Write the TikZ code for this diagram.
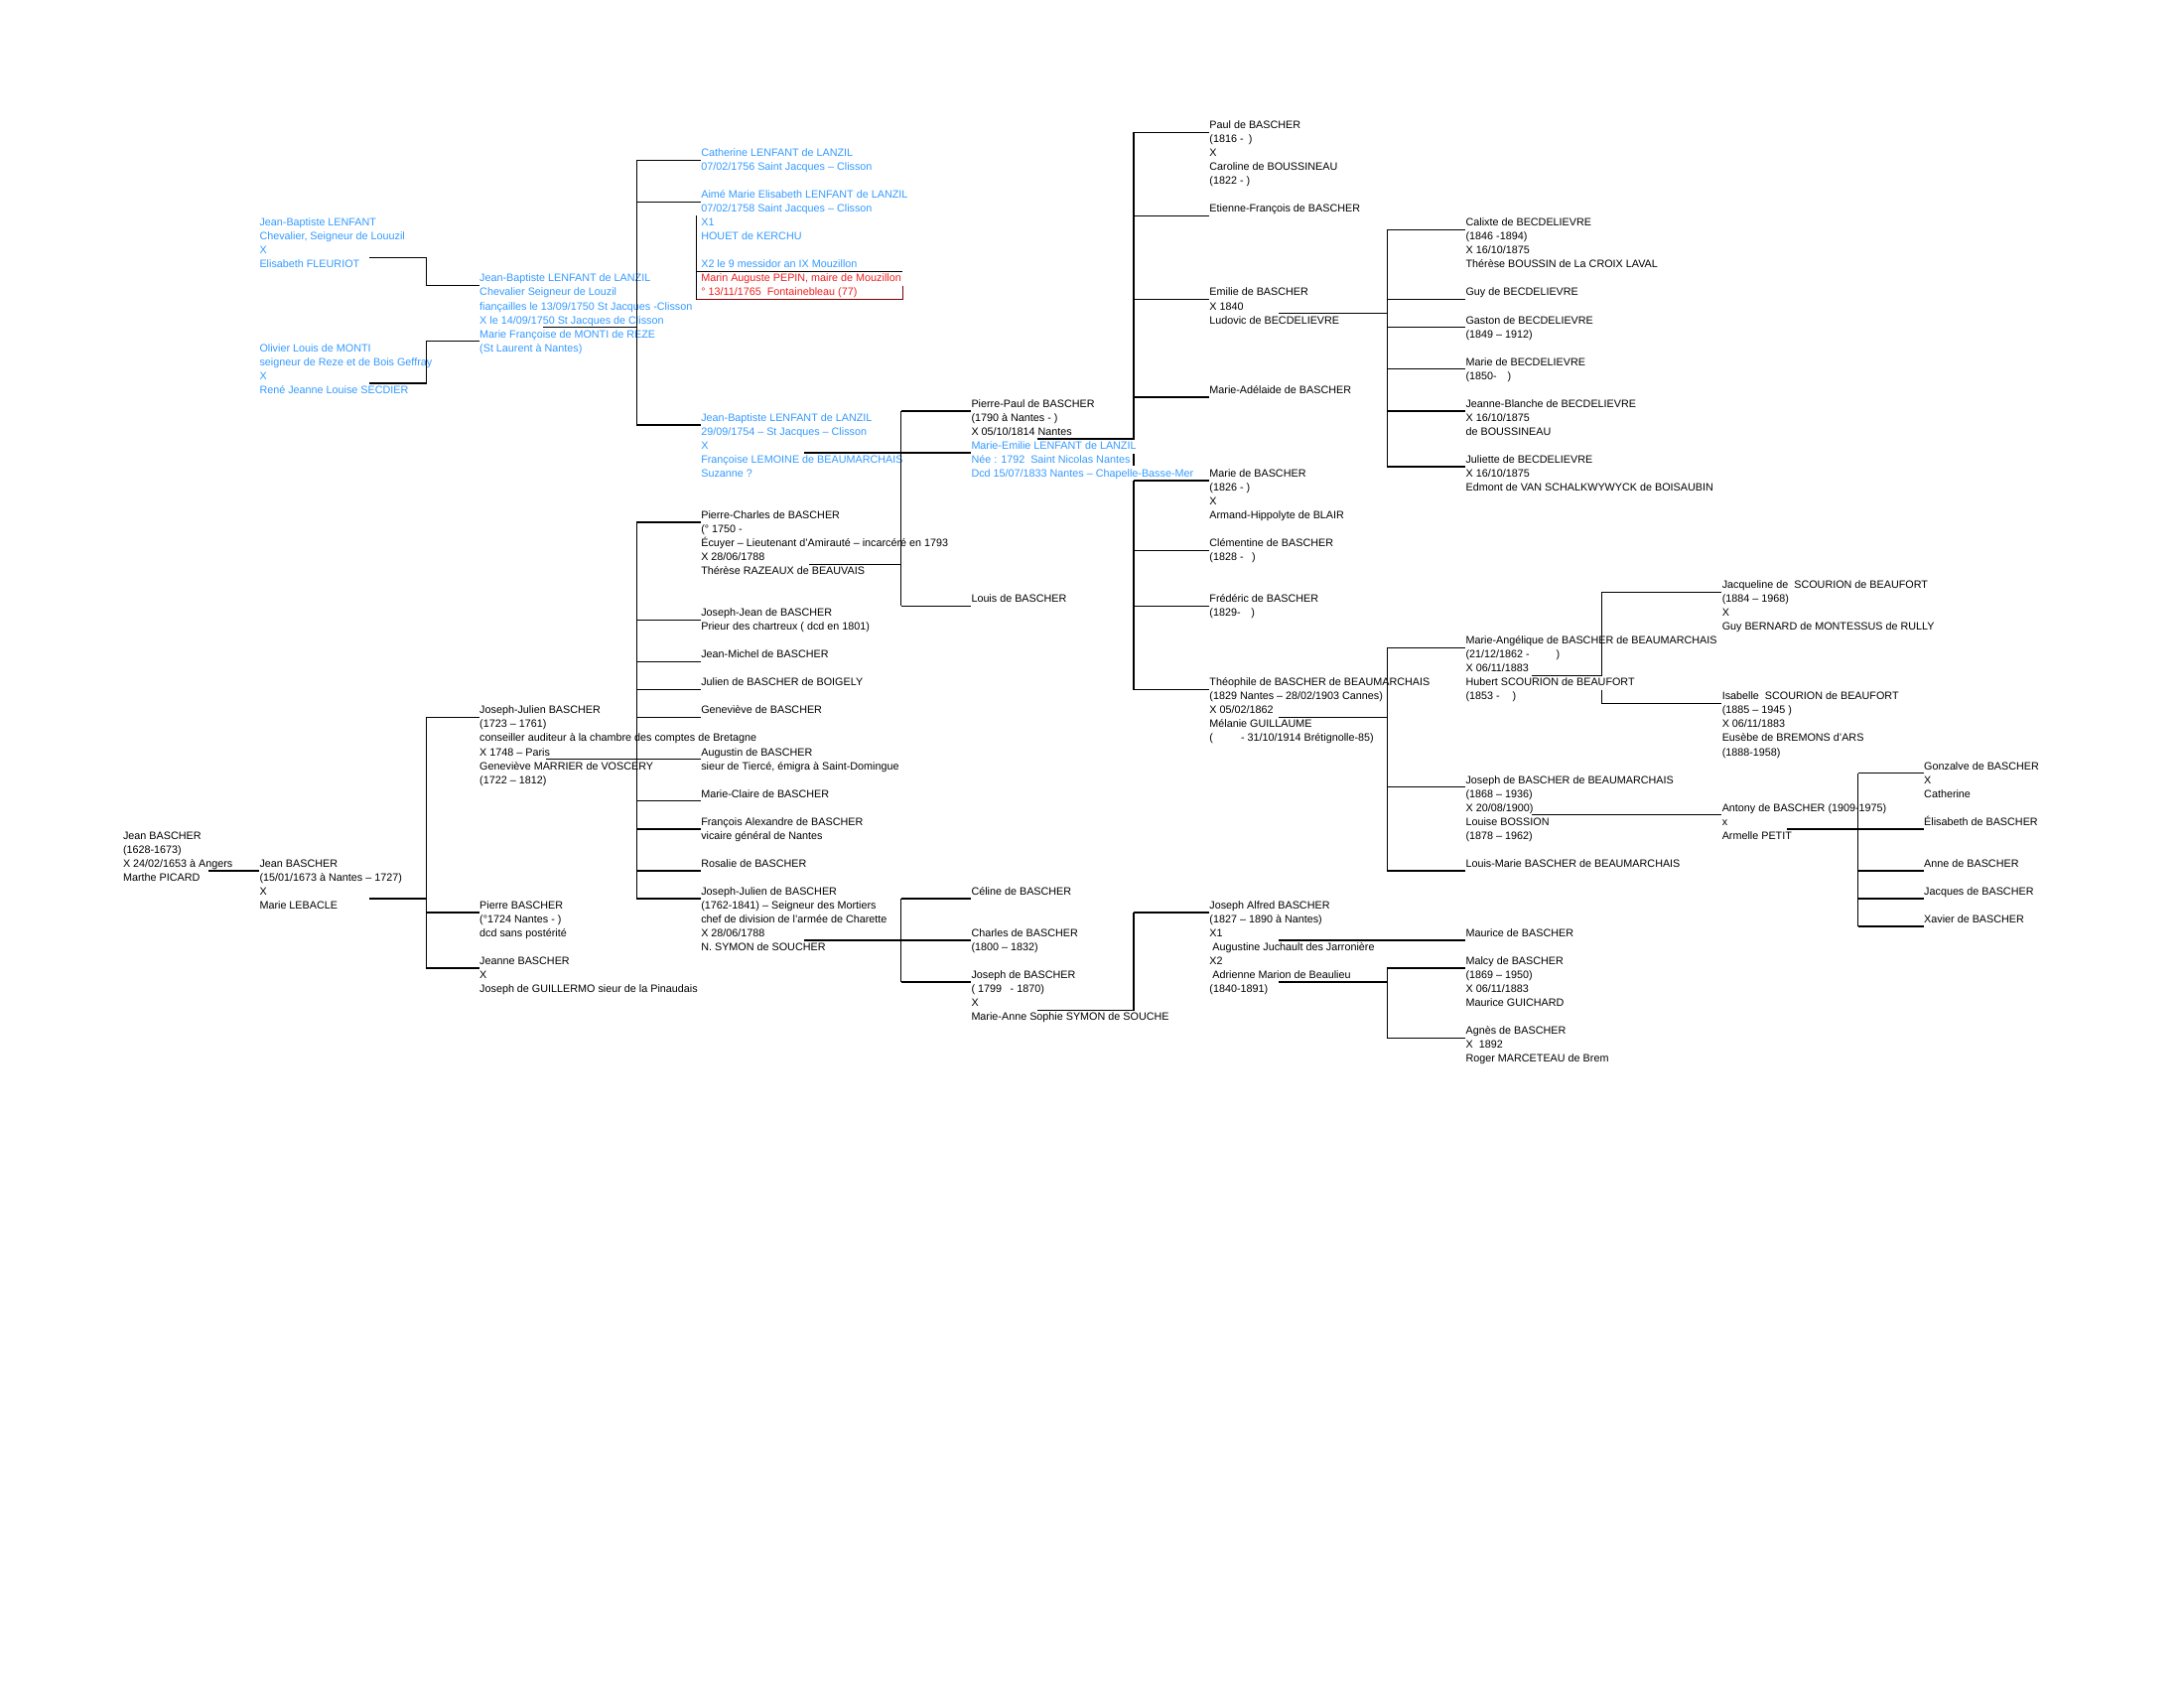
\documentclass[tikz,border=0pt]{standalone}
\usepackage{fontspec}
\setmainfont{Liberation Sans}
\usepackage{tikz}
\definecolor{lanzilblue}{RGB}{51,153,255}
\definecolor{pepinred}{RGB}{240,30,30}
\definecolor{boxred}{RGB}{128,0,0}

\begin{document}
\begin{tikzpicture}[
    x=0.01782cm, y=-0.01782cm,
    person/.style={anchor=north west, inner sep=0pt, align=left, font=\fontsize{3.9}{5.07}\selectfont},
    lanzil/.style={person, text=lanzilblue},
    mayor/.style={person, text=pepinred},
    link/.style={line width=0.5pt}
  ]
  \useasboundingbox (0,0) rectangle (1568,1212);

  \node[person] (jeanA) at (88,595) {\strut Jean BASCHER\\(1628-1673)\\X 24/02/1653 à Angers\\Marthe PICARD};
  \node[person] (jeanB) at (186,615) {\strut Jean BASCHER\\(15/01/1673 à Nantes -- 1727)\\X\\Marie LEBACLE};
  \node[lanzil] (jbl) at (186,155) {\strut Jean-Baptiste LENFANT\\Chevalier, Seigneur de Louuzil\\X\\Elisabeth FLEURIOT};
  \node[lanzil] (monti) at (186,245) {\strut Olivier Louis de MONTI\\seigneur de Reze et de Bois Geffray\\X\\René Jeanne Louise SECDIER};

  \node[lanzil] (jbln) at (344,195) {\strut Jean-Baptiste LENFANT de LANZIL\\Chevalier Seigneur de Louzil\\fiançailles le 13/09/1750 St Jacques -Clisson\\X le 14/09/1750 St Jacques de Clisson\\Marie Françoise de MONTI de REZE\\(St Laurent à Nantes)};
  \node[person] (jjul) at (344,505) {\strut Joseph-Julien BASCHER\\(1723 -- 1761)\\conseiller auditeur à la chambre des comptes de Bretagne\\X 1748 -- Paris\\Geneviève MARRIER de VOSCERY\\(1722 -- 1812)};
  \node[person] (pierreB) at (344,645) {\strut Pierre BASCHER\\(°1724 Nantes - )\\dcd sans postérité};
  \node[person] (jeanne) at (344,685) {\strut Jeanne BASCHER\\X\\Joseph de GUILLERMO sieur de la Pinaudais};

  \node[lanzil] (cath) at (503,105) {\strut Catherine LENFANT de LANZIL\\07/02/1756 Saint Jacques -- Clisson};
  \node[lanzil] (aime) at (503,135) {\strut Aimé Marie Elisabeth LENFANT de LANZIL\\07/02/1758 Saint Jacques -- Clisson\\X1\\HOUET de KERCHU\\~\\X2 le 9 messidor an IX Mouzillon};
  \node[mayor] (pepin) at (503,195) {\strut Marin Auguste PEPIN, maire de Mouzillon\\° 13/11/1765\ \ Fontainebleau (77)};
  \node[lanzil] (jbl2) at (503,295) {\strut Jean-Baptiste LENFANT de LANZIL\\29/09/1754 -- St Jacques -- Clisson\\X\\Françoise LEMOINE de BEAUMARCHAIS\\Suzanne ?};
  \node[person] (pch) at (503,365) {\strut Pierre-Charles de BASCHER\\(° 1750 -\\Écuyer -- Lieutenant d'Amirauté -- incarcéré en 1793\\X 28/06/1788\\Thérèse RAZEAUX de BEAUVAIS};
  \node[person] (josjean) at (503,435) {\strut Joseph-Jean de BASCHER\\Prieur des chartreux ( dcd en 1801)};
  \node[person] (jmichel) at (503,465) {\strut Jean-Michel de BASCHER};
  \node[person] (julien) at (503,485) {\strut Julien de BASCHER de BOIGELY};
  \node[person] (genev) at (503,505) {\strut Geneviève de BASCHER};
  \node[person] (augustin) at (503,535) {\strut Augustin de BASCHER\\sieur de Tiercé, émigra à Saint-Domingue};
  \node[person] (mclaire) at (503,565) {\strut Marie-Claire de BASCHER};
  \node[person] (francois) at (503,585) {\strut François Alexandre de BASCHER\\vicaire général de Nantes};
  \node[person] (rosalie) at (503,615) {\strut Rosalie de BASCHER};
  \node[person] (jj2) at (503,635) {\strut Joseph-Julien de BASCHER\\(1762-1841) -- Seigneur des Mortiers\\chef de division de l'armée de Charette\\X 28/06/1788\\N. SYMON de SOUCHER};

  \node[person] (ppaul) at (697,285) {\strut Pierre-Paul de BASCHER\\(1790 à Nantes - )\\X 05/10/1814 Nantes};
  \node[lanzil] (emilie) at (697,315) {\strut Marie-Emilie LENFANT de LANZIL\\Née : 1792\ \ Saint Nicolas Nantes\\Dcd 15/07/1833 Nantes -- Chapelle-Basse-Mer};
  \node[person] (louis) at (697,425) {\strut Louis de BASCHER};
  \node[person] (celine) at (697,635) {\strut Céline de BASCHER};
  \node[person] (charles) at (697,665) {\strut Charles de BASCHER\\(1800 -- 1832)};
  \node[person] (joseph) at (697,695) {\strut Joseph de BASCHER\\( 1799\hspace{0.8em}- 1870)\\X\\Marie-Anne Sophie SYMON de SOUCHE};

  \node[person] (paul) at (868,85) {\strut Paul de BASCHER\\(1816 -\hspace{0.5em})\\X\\Caroline de BOUSSINEAU\\(1822 - )};
  \node[person] (etienne) at (868,145) {\strut Etienne-François de BASCHER};
  \node[person] (emilieB) at (868,205) {\strut Emilie de BASCHER\\X 1840\\Ludovic de BECDELIEVRE};
  \node[person] (madel) at (868,275) {\strut Marie-Adélaide de BASCHER};
  \node[person] (marieB) at (868,335) {\strut Marie de BASCHER\\(1826 - )\\X\\Armand-Hippolyte de BLAIR};
  \node[person] (clem) at (868,385) {\strut Clémentine de BASCHER\\(1828 -\hspace{0.8em})};
  \node[person] (fred) at (868,425) {\strut Frédéric de BASCHER\\(1829-\hspace{1em})};
  \node[person] (theo) at (868,485) {\strut Théophile de BASCHER de BEAUMARCHAIS\\(1829 Nantes -- 28/02/1903 Cannes)\\X 05/02/1862\\Mélanie GUILLAUME\\(\hspace{2.6em}- 31/10/1914 Brétignolle-85)};
  \node[person] (alfred) at (868,645) {\strut Joseph Alfred BASCHER\\(1827 -- 1890 à Nantes)\\X1\\\ Augustine Juchault des Jarronière\\X2\\\ Adrienne Marion de Beaulieu\\(1840-1891)};

  \node[person] (calixte) at (1052,155) {\strut Calixte de BECDELIEVRE\\(1846 -1894)\\X 16/10/1875\\Thérèse BOUSSIN de La CROIX LAVAL};
  \node[person] (guy) at (1052,205) {\strut Guy de BECDELIEVRE};
  \node[person] (gaston) at (1052,225) {\strut Gaston de BECDELIEVRE\\(1849 -- 1912)};
  \node[person] (marieBec) at (1052,255) {\strut Marie de BECDELIEVRE\\(1850-\hspace{1em})};
  \node[person] (jblanche) at (1052,285) {\strut Jeanne-Blanche de BECDELIEVRE\\X 16/10/1875\\de BOUSSINEAU};
  \node[person] (juliette) at (1052,325) {\strut Juliette de BECDELIEVRE\\X 16/10/1875\\Edmont de VAN SCHALKWYWYCK de BOISAUBIN};
  \node[person] (mang) at (1052,455) {\strut Marie-Angélique de BASCHER de BEAUMARCHAIS\\(21/12/1862 -\hspace{2.5em})\\X 06/11/1883\\Hubert SCOURION de BEAUFORT\\(1853 -\hspace{1.2em})};
  \node[person] (jbb) at (1052,555) {\strut Joseph de BASCHER de BEAUMARCHAIS\\(1868 -- 1936)\\X 20/08/1900)\\Louise BOSSION\\(1878 -- 1962)};
  \node[person] (lmarie) at (1052,615) {\strut Louis-Marie BASCHER de BEAUMARCHAIS};
  \node[person] (maurice) at (1052,665) {\strut Maurice de BASCHER};
  \node[person] (malcy) at (1052,685) {\strut Malcy de BASCHER\\(1869 -- 1950)\\X 06/11/1883\\Maurice GUICHARD};
  \node[person] (agnes) at (1052,735) {\strut Agnès de BASCHER\\X\ \ 1892\\Roger MARCETEAU de Brem};

  \node[person] (jacqueline) at (1236,415) {\strut Jacqueline de\ \ SCOURION de BEAUFORT\\(1884 -- 1968)\\X\\Guy BERNARD de MONTESSUS de RULLY};
  \node[person] (isabelle) at (1236,495) {\strut Isabelle\ \ SCOURION de BEAUFORT\\(1885 -- 1945 )\\X 06/11/1883\\Eusèbe de BREMONS d'ARS\\(1888-1958)};
  \node[person] (antony) at (1236,575) {\strut Antony de BASCHER (1909-1975)\\x\\Armelle PETIT};

  \node[person] (gonzalve) at (1381,545) {\strut Gonzalve de BASCHER\\X\\Catherine};
  \node[person] (elisabeth) at (1381,585) {\strut Élisabeth de BASCHER};
  \node[person] (anne) at (1381,615) {\strut Anne de BASCHER};
  \node[person] (jacques) at (1381,635) {\strut Jacques de BASCHER};
  \node[person] (xavier) at (1381,655) {\strut Xavier de BASCHER};

  % couples
  \draw[link] ([shift={(62,30)}]jeanA.north west) -- ([shift={(0,10)}]jeanB.north west);
  \draw[link] ([shift={(79,30)}]jeanB.north west) -| ([shift={(-38,10)}]jjul.north west);
  \draw[link] ([shift={(79,30)}]jbl.north west) -| ([shift={(-38,10)}]jbln.north west);
  \draw[link] ([shift={(79,30)}]monti.north west) -| ([shift={(-38,50)}]jbln.north west);
  \draw[link] ([shift={(46,40)}]jbln.north west) -| ([shift={(-46,10)}]cath.north west);
  \draw[link] ([shift={(74,30)}]jbl2.north west) -- ([shift={(0,10)}]emilie.north west);
  \draw[link] ([shift={(78,40)}]pch.north west) -| ([shift={(-50,10)}]ppaul.north west);
  \draw[link] ([shift={(48,40)}]jjul.north west) -- ([shift={(0,10)}]augustin.north west);
  \draw[link] ([shift={(74,40)}]jj2.north west) -| ([shift={(-50,10)}]celine.north west);
  \draw[link] ([shift={(48,30)}]ppaul.north west) -| ([shift={(-54,10)}]paul.north west);
  \draw[link] ([shift={(117,11)}]emilie.north west) -- ++(0,8);
  \draw[link] ([shift={(48,30)}]joseph.north west) -| ([shift={(-54,10)}]alfred.north west);
  \draw[link] ([shift={(50,20)}]emilieB.north west) -| ([shift={(-56,10)}]calixte.north west);
  \draw[link] ([shift={(50,30)}]theo.north west) -| ([shift={(-56,10)}]mang.north west);
  \draw[link] ([shift={(50,30)}]alfred.north west) -- ([shift={(0,10)}]maurice.north west);
  \draw[link] ([shift={(50,60)}]alfred.north west) -| ([shift={(-56,10)}]malcy.north west);
  \draw[link] ([shift={(48,30)}]mang.north west) -| ([shift={(-86,10)}]jacqueline.north west);
  \draw[link] ([shift={(48,30)}]jbb.north west) -- ([shift={(0,10)}]antony.north west);
  \draw[link] ([shift={(47,20)}]antony.north west) -| ([shift={(-47,10)}]gonzalve.north west);

  % Aime / Pepin frame
  \draw[link] ([shift={(-3,20)}]aime.north west) -- ([shift={(-3,20)}]pepin.north west);
  \draw[link] ([shift={(-3,0)}]pepin.north west) -- ([shift={(145,0)}]pepin.north west);
  \draw[link, boxred] ([shift={(145,10)}]pepin.north west) |- ([shift={(-3,20)}]pepin.north west);

  % sibling bars
  \draw[link] ([shift={(-38,10)}]jjul.north west) -- ([shift={(-38,10)}]jeanne.north west);
  \draw[link] ([shift={(-46,10)}]cath.north west) -- ([shift={(-46,10)}]jbl2.north west);
  \draw[link] ([shift={(-46,10)}]pch.north west) -- ([shift={(-46,10)}]jj2.north west);
  \draw[link] ([shift={(-50,10)}]ppaul.north west) -- ([shift={(-50,10)}]louis.north west);
  \draw[link] ([shift={(-50,10)}]celine.north west) -- ([shift={(-50,10)}]joseph.north west);
  \draw[link] ([shift={(-54,10)}]marieB.north west) -- ([shift={(-54,10)}]theo.north west);
  \draw[link] ([shift={(-56,10)}]calixte.north west) -- ([shift={(-56,10)}]juliette.north west);
  \draw[link] ([shift={(-56,10)}]mang.north west) -- ([shift={(-56,10)}]lmarie.north west);
  \draw[link] ([shift={(-56,10)}]malcy.north west) -- ([shift={(-56,10)}]agnes.north west);
  \draw[link] ([shift={(-86,0)}]isabelle.north west) -- ([shift={(-86,10)}]isabelle.north west);
  \draw[link] ([shift={(-47,10)}]gonzalve.north west) -- ([shift={(-47,10)}]xavier.north west);

  \draw[link] ([shift={(0,50)}]jbln.north west) -- ++(-38,0);
  \foreach \c in {jjul,pierreB,jeanne,jbln}
    \draw[link] ([shift={(0,10)}]\c.north west) -- ++(-38,0);
  \foreach \c in {cath,aime,jbl2,pch,josjean,jmichel,julien,genev,augustin,mclaire,francois,rosalie,jj2}
    \draw[link] ([shift={(0,10)}]\c.north west) -- ++(-46,0);
  \foreach \c in {ppaul,louis,celine,charles,joseph}
    \draw[link] ([shift={(0,10)}]\c.north west) -- ++(-50,0);
  \foreach \c in {paul,etienne,emilieB,madel,marieB,clem,fred,theo,alfred}
    \draw[link] ([shift={(0,10)}]\c.north west) -- ++(-54,0);
  \foreach \c in {calixte,guy,gaston,marieBec,jblanche,juliette,mang,jbb,lmarie,malcy,agnes}
    \draw[link] ([shift={(0,10)}]\c.north west) -- ++(-56,0);
  \foreach \c in {jacqueline,isabelle}
    \draw[link] ([shift={(0,10)}]\c.north west) -- ++(-86,0);
  \foreach \c in {gonzalve,elisabeth,anne,jacques,xavier}
    \draw[link] ([shift={(0,10)}]\c.north west) -- ++(-47,0);
\end{tikzpicture}
\end{document}
